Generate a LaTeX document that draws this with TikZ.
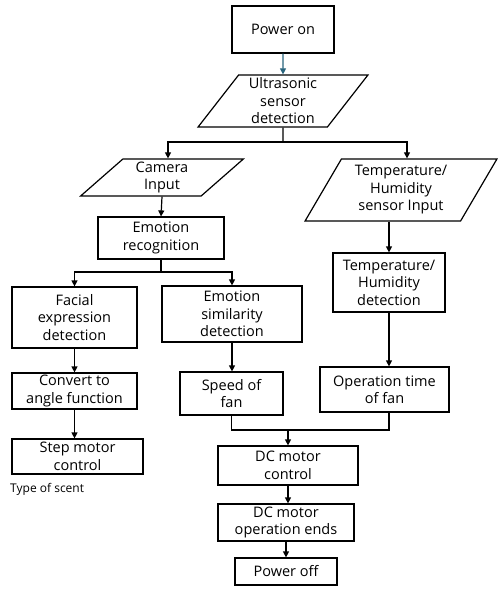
\documentclass[tikz,border=0pt]{standalone}
\usepackage{fontspec}
\setmainfont{Open Sans}
\usetikzlibrary{shapes.geometric,arrows.meta}
\definecolor{arrteal}{RGB}{40,100,125}
\tikzset{
	box/.style={draw=black, line width=1.2pt, align=center, inner sep=0pt,
		font=\fontsize{14.5}{17.5}\selectfont},
	inbox/.style={box, trapezium, trapezium stretches=true},
	arr/.style={line width=1.2pt, -{Triangle[length=6pt,width=6pt]}},
	lin/.style={line width=1.2pt}
}
\begin{document}
\begin{tikzpicture}[x=1pt, y=-1pt]
	\useasboundingbox (0,0) rectangle (502,594); % keret
	% felső ág
	\node[box, minimum width=102pt, minimum height=47pt] (pwron) at (283,29.5) {Power on};
	\node[inbox, trapezium left angle=56, trapezium right angle=124, minimum width=170pt, minimum height=52pt] (ultra) at (283,101) {Ultrasonic\\sensor\\detection};
	\node[inbox, trapezium left angle=48, trapezium right angle=132, minimum width=163pt, minimum height=37pt] (camin) at (162,177.5) {Camera\\Input};
	\node[inbox, trapezium left angle=60, trapezium right angle=120, minimum width=192pt, minimum height=62pt] (tempin) at (401,190) {Temperature/\\Humidity\\sensor Input};
	% bal ág
	\node[box, minimum width=126pt, minimum height=42pt] (emorec) at (161,238) {Emotion\\recognition};
	\node[box, minimum width=125pt, minimum height=61pt] (facial) at (74.5,317.5) {Facial\\expression\\detection};
	\node[box, minimum width=140pt, minimum height=56pt] (emosim) at (232,314) {Emotion\\similarity\\detection};
	\node[box, minimum width=125pt, minimum height=36pt] (convert) at (74.5,391) {Convert to\\angle function};
	\node[box, minimum width=103pt, minimum height=43pt] (speed) at (231.5,393.5) {Speed of\\fan};
	\node[box, minimum width=131pt, minimum height=35pt] (step) at (77.5,456.5) {Step motor\\control};
	\node[anchor=west, inner sep=0pt, font=\fontsize{12}{14}\selectfont] (scent) at (10,489) {Type of scent};
	% jobb ág
	\node[box, minimum width=112pt, minimum height=59pt] (tempdet) at (389,282.5) {Temperature/\\Humidity\\detection};
	\node[box, minimum width=129pt, minimum height=45pt] (optime) at (384.5,389.5) {Operation time\\of fan};
	% alsó rész
	\node[box, minimum width=140pt, minimum height=39pt] (dcctrl) at (288,465.5) {DC motor\\control};
	\node[box, minimum width=136pt, minimum height=37pt] (dcend) at (286,522.5) {DC motor\\operation ends};
	\node[box, minimum width=102pt, minimum height=27pt] (pwroff) at (286,571.5) {Power off};
	% elágazási pontok
	\coordinate (split1) at (283,142);
	\coordinate (split2) at (161,272);
	\coordinate (merge) at (288,430);
	% nyilak
	\draw[arr, color=arrteal] (pwron) -- (ultra);
	\draw[lin] (ultra.south) -- (split1);
	\draw[arr] (split1) -| ([xshift=6pt]camin.north);
	\draw[arr] (split1) -| ([xshift=6pt]tempin.north);
	\draw[arr] (camin.south) -- (emorec.north);
	\draw[arr] (tempdet.north |- tempin.south) -- (tempdet.north);
	\draw[lin] (emorec.south) -- (split2);
	\draw[arr] (split2) -| (facial.north);
	\draw[arr] (split2) -| (emosim.north);
	\draw[arr] (facial) -- (convert);
	\draw[arr] (convert.south) -- (convert.south |- step.north);
	\draw[arr] (emosim.south) -- (emosim.south |- speed.north);
	\draw[arr] (tempdet.south) -- (tempdet.south |- optime.north);
	\draw[lin] (speed.south) |- (merge);
	\draw[lin] (tempdet.south |- optime.south) |- (merge);
	\draw[arr] (merge) -- (dcctrl.north);
	\draw[arr] (dcctrl.south) -- (dcctrl.south |- dcend.north);
	\draw[arr] (dcend) -- (pwroff);
\end{tikzpicture}
\end{document}
